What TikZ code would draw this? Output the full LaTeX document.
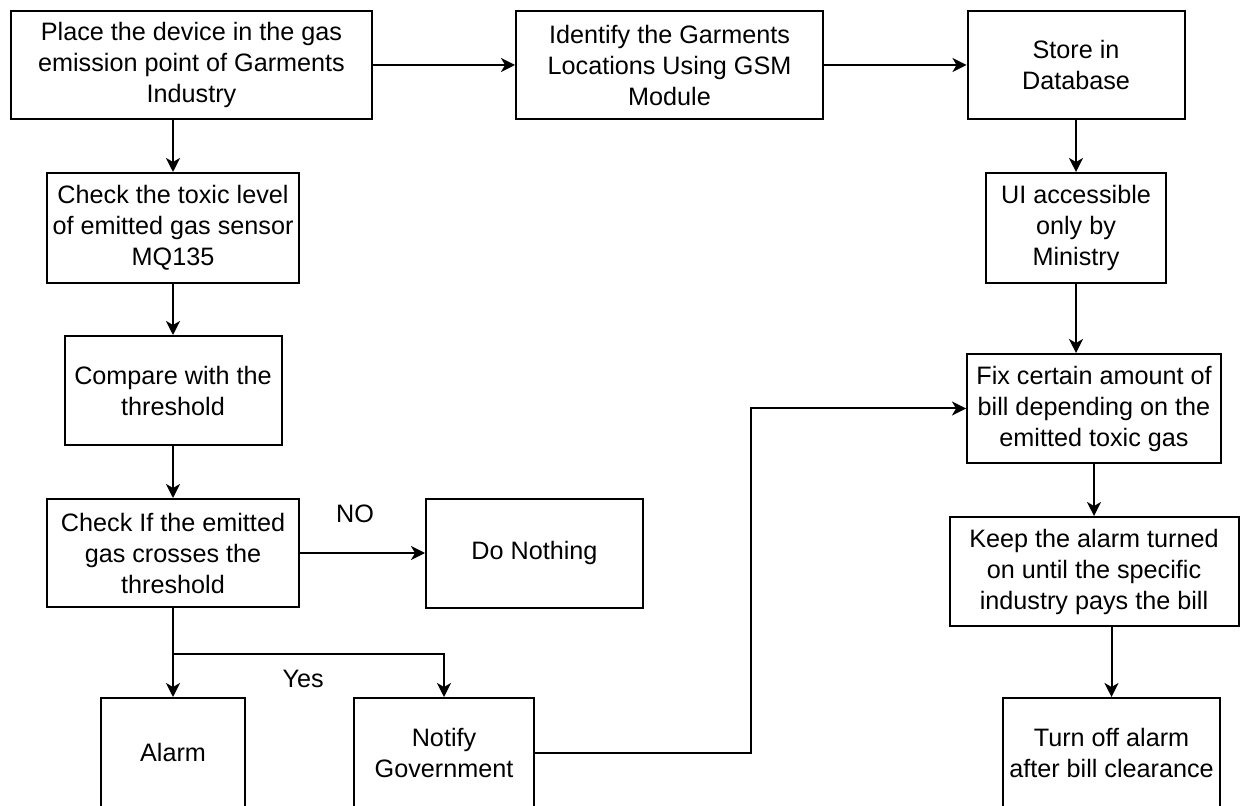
\documentclass[tikz,border=0pt]{standalone}
\usepackage{fontspec}
\setmainfont{Liberation Sans}
\usetikzlibrary{arrows.meta}

\begin{document}
\begin{tikzpicture}[
    x=0.5pt, y=-0.5pt,
    stepbox/.style={rectangle, draw=black, line width=1pt, fill=white, inner sep=0pt, align=center, font=\fontsize{12.6}{15.5}\selectfont},
    arrow/.style={-{Stealth[length=7pt, width=7pt, inset=2pt]}, line width=1pt},
    label/.style={font=\fontsize{12.6}{15.5}\selectfont},
]
\useasboundingbox (0,0) rectangle (1240,806);

% Left column
\node[stepbox, minimum width=180.5pt, minimum height=54pt] (place) at (191.5,65) {Place the device in the gas\\emission point of Garments\\Industry};
\node[stepbox, minimum width=126pt, minimum height=55pt] (check) at (173,228) {Check the toxic level\\of emitted gas sensor\\MQ135};
\node[stepbox, minimum width=108.5pt, minimum height=54.5pt] (compare) at (173,390.5) {Compare with the\\threshold};
\node[stepbox, minimum width=126pt, minimum height=54pt] (crosses) at (173,553) {Check If the emitted\\gas crosses the\\threshold};
\node[stepbox, minimum width=108.5pt, minimum height=54.5pt] (nothing) at (534.5,553) {Do Nothing};
\node[stepbox, minimum width=72pt, minimum height=54.5pt] (alarm) at (173,752.5) {Alarm};
\node[stepbox, minimum width=90pt, minimum height=54.5pt] (notify) at (444,752.5) {Notify\\Government};

% Top row and right column
\node[stepbox, minimum width=153.5pt, minimum height=54pt] (identify) at (669.5,65) {Identify the Garments\\Locations Using GSM\\Module};
\node[stepbox, minimum width=108.5pt, minimum height=54pt] (store) at (1076,65) {Store in\\Database};
\node[stepbox, minimum width=90pt, minimum height=55pt] (ui) at (1076,228) {UI accessible\\only by\\Ministry};
\node[stepbox, minimum width=127pt, minimum height=54.5pt] (fix) at (1094,408.5) {Fix certain amount of\\bill depending on the\\emitted toxic gas};
\node[stepbox, minimum width=144.5pt, minimum height=54.5pt] (keep) at (1094,571.5) {Keep the alarm turned\\on until the specific\\industry pays the bill};
\node[stepbox, minimum width=108.5pt, minimum height=54.5pt] (off) at (1111.5,752.5) {Turn off alarm\\after bill clearance};

\coordinate (bend) at (751,0);

% Arrows
\draw[arrow] (place) -- (identify);
\draw[arrow] (identify) -- (store);
\draw[arrow] (check.north |- place.south) -- (check.north);
\draw[arrow] (check) -- (compare);
\draw[arrow] (compare) -- (crosses);
\draw[arrow] (crosses) -- node[label, pos=0.44, yshift=19.5pt] {NO} (nothing);
\draw[arrow] (crosses) -- (alarm);
\draw[arrow] (crosses.south) -- ++(0,46) -| node[label, pos=0.24, yshift=-12.5pt] {Yes} (notify.north);
\draw[arrow] (notify.east) -- (notify.east -| bend) |- (fix.west);
\draw[arrow] (store) -- (ui);
\draw[arrow] (ui.south) -- (ui.south |- fix.north);
\draw[arrow] (fix) -- (keep);
\draw[arrow] (off.north |- keep.south) -- (off.north);

\end{tikzpicture}
\end{document}
